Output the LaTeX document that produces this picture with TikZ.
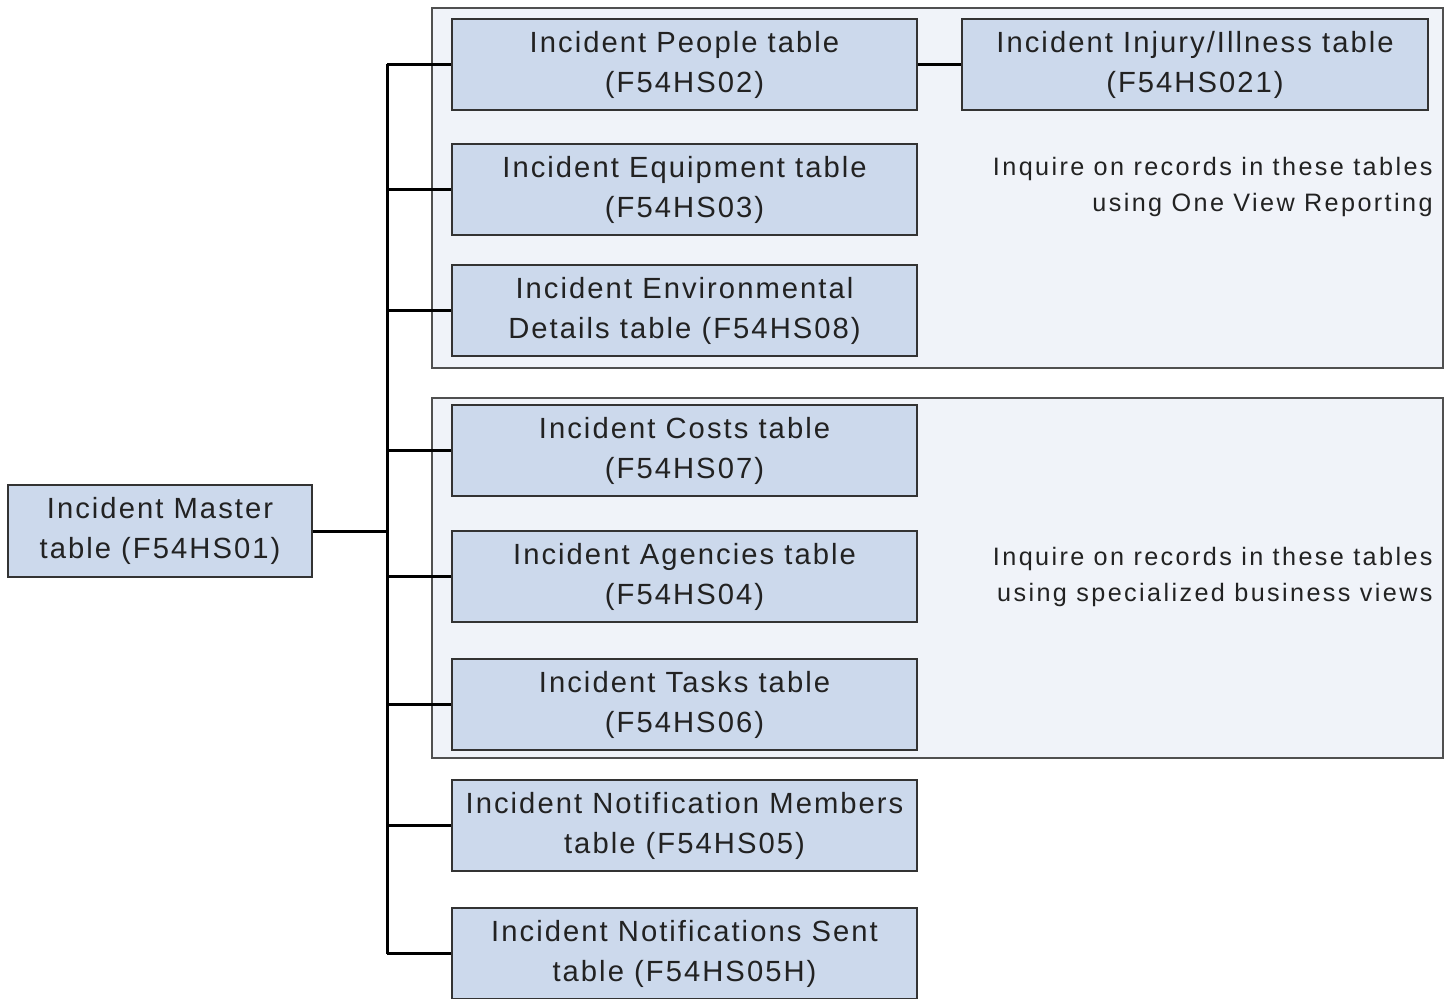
\documentclass[tikz,border=0pt]{standalone}
\usepackage{fontspec}
\setmainfont{Liberation Sans}
\newfontfamily\boxfont[LetterSpace=7]{Liberation Sans}
\newfontfamily\notefont[LetterSpace=9.5]{Liberation Sans}
\definecolor{boxfill}{HTML}{CCD9EC}
\definecolor{groupfill}{HTML}{F0F3F9}
\definecolor{boxline}{HTML}{333333}
\definecolor{groupline}{HTML}{505050}
\definecolor{txt}{HTML}{222222}
\begin{document}
\begin{tikzpicture}[x=0.5pt,y=-0.5pt,
  tbl/.style={draw=boxline,line width=1.3pt,fill=boxfill,align=center,
    minimum width=232.5pt,minimum height=45.5pt,inner sep=0pt,
    font=\boxfont\fontsize{14.6pt}{20pt}\selectfont,text=txt},
  grp/.style={draw=groupline,line width=1.2pt,fill=groupfill},
  note/.style={align=right,anchor=east,font=\notefont\fontsize{12.6pt}{18pt}\selectfont,text=txt,inner sep=0pt},
  link/.style={line width=1.5pt,black}]
\useasboundingbox (0,0) rectangle (1449,999);
\fill[white] (0,0) rectangle (1449,999);
\draw[grp] (432,8) rectangle (1443,368);
\draw[grp] (432,398) rectangle (1443,758);
\node[tbl,minimum width=152pt,minimum height=46pt] (master) at (160,531) {Incident Master\\table (F54HS01)};
\node[tbl] (people) at (684.5,64.5) {Incident People table\\(F54HS02)};
\node[tbl,minimum width=233pt] (injury) at (1195,64.5) {Incident Injury/Illness table\\(F54HS021)};
\node[tbl] (equip) at (684.5,189.5) {Incident Equipment table\\(F54HS03)};
\node[tbl] (env) at (684.5,310.5) {Incident Environmental\\Details table (F54HS08)};
\node[tbl] (costs) at (684.5,450.5) {Incident Costs table\\(F54HS07)};
\node[tbl] (agen) at (684.5,576.5) {Incident Agencies table\\(F54HS04)};
\node[tbl] (tasks) at (684.5,704.5) {Incident Tasks table\\(F54HS06)};
\node[tbl] (memb) at (684.5,825.5) {Incident Notification Members\\table (F54HS05)};
\node[tbl] (sent) at (684.5,953.5) {Incident Notifications Sent\\table (F54HS05H)};
\node[note] (n1) at (1433,187) {Inquire on records in these tables\\using One View Reporting};
\node[note] (n2) at (1433,577) {Inquire on records in these tables\\using specialized business views};
\coordinate (trunk) at (387,0);
\draw[link] (people.west -| trunk) -- (sent.west -| trunk);
\draw[link] (master.east) -- (master.east -| trunk);
\foreach \b in {people,equip,env,costs,agen,tasks,memb,sent}
  \draw[link] (\b.west) -- (\b.west -| trunk);
\draw[link] (people.east) -- (injury.west);
\end{tikzpicture}
\end{document}
